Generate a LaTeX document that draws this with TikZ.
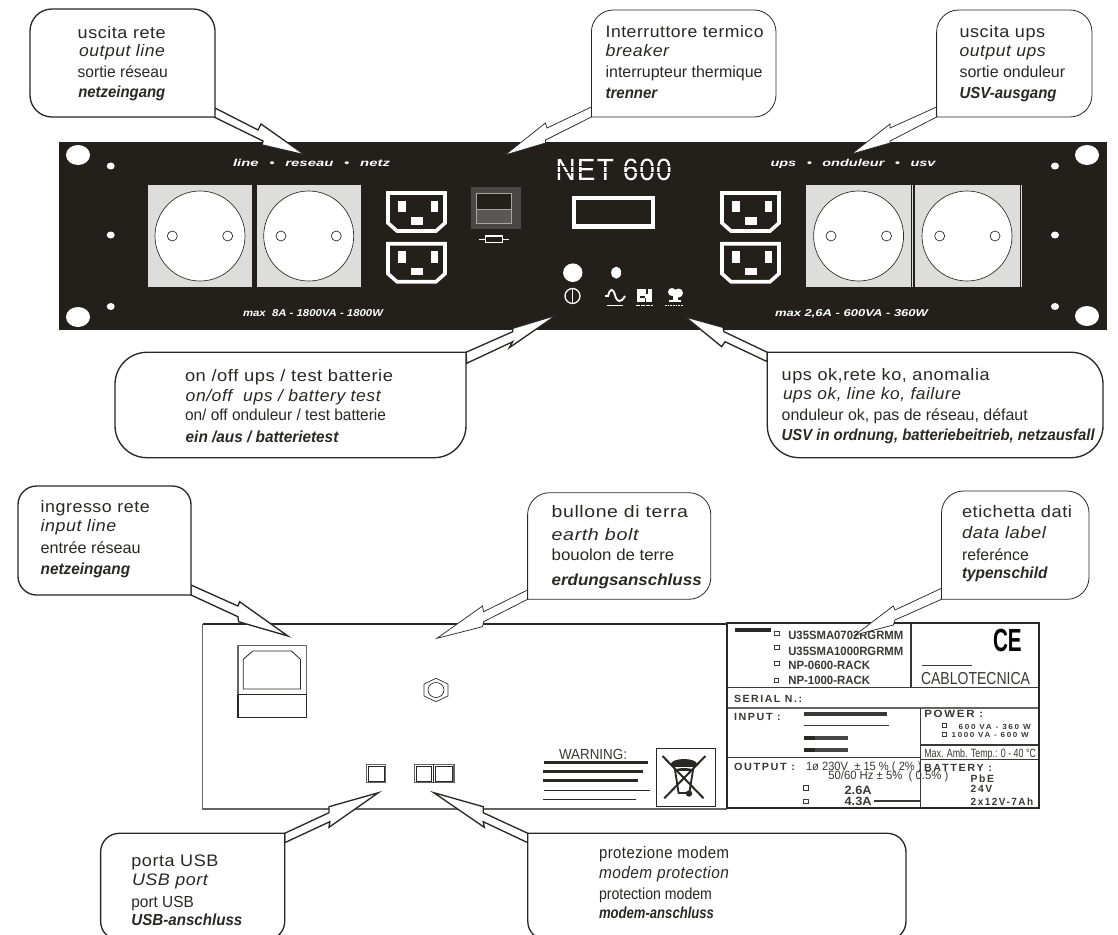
\documentclass[tikz,border=0pt]{standalone}
\usepackage{fontspec}
\usepackage{graphicx}
\setmainfont{Liberation Sans}
\newlength\pxu
\setlength\pxu{0.75pt}
\definecolor{panel}{HTML}{231F1B}
\definecolor{ink}{HTML}{2A2826}
\definecolor{sock}{HTML}{DDDEDC}
\definecolor{labink}{HTML}{3A3836}
\definecolor{rim}{HTML}{666462}
\newcommand{\lsp}[1]{\addfontfeature{LetterSpace=#1}}
% name, x, baseline y, width in px, style, text
\newcommand{\tl}[6]{\node[tx,#5] (#1) at (#2,#3) {\resizebox{#4\pxu}{\height}{#6}};}
% IEC connector at x,y offset
\newcommand{\iec}[2]{%
 \begin{scope}[shift={(#1,#2)}]
  \draw[white,line width=2.7pt,line join=miter] (388,193) -- (445,193) -- (445,223) -- (436,231) -- (397,231) -- (388,223) -- cycle;
  \fill[white] (397.7,200.7) rectangle (406,212.3);
  \fill[white] (431,200.7) rectangle (438.3,212.3);
  \fill[white] (410.7,217.3) rectangle (422.7,224.7);
 \end{scope}}
\tikzset{
 tx/.style={anchor=base west,inner sep=0pt,outer sep=0pt,text=ink},
 la/.style={font=\fontsize{12.5}{14}\selectfont\lsp{3}},
 lb/.style={font=\fontsize{12.5}{14}\selectfont\itshape\lsp{3}},
 lc/.style={font=\fontsize{12}{14}\selectfont},
 ld/.style={font=\fontsize{12}{14}\selectfont\bfseries\itshape},
 wt/.style={text=white,font=\fontsize{7.5}{9}\selectfont\bfseries\itshape},
 lbig/.style={text=labink,font=\fontsize{9}{11}\selectfont\bfseries},
 lsec/.style={text=labink,font=\fontsize{7.8}{9}\selectfont\bfseries\lsp{15}},
 lsm/.style={text=labink,font=\fontsize{5.5}{7}\selectfont\bfseries\lsp{20}},
 lreg/.style={text=labink,font=\fontsize{9}{11}\selectfont},
 cbthick/.style={draw=ink,fill=white,line width=1pt,line cap=round,line join=round},
 cbthin/.style={draw=ink,fill=white,line width=.6pt,line cap=round,line join=round},
 ahthick/.style={draw=ink,fill=white,line width=1pt,line join=miter,miter limit=12},
 ahthin/.style={draw=ink,fill=white,line width=.55pt,line join=miter,miter limit=12},
 chk/.style={draw=labink,line width=.3pt,fill=white},
 barh/.style={line width=2.6pt,draw=labink},
 barl/.style={line width=1.1pt,draw=labink},
 sep/.style={draw=labink,line width=.8pt},
}
\begin{document}
\begin{tikzpicture}[x=0.75pt,y=-0.75pt]
\useasboundingbox (0,0) rectangle (1118,935);
\clip (0,0) rectangle (1118,935);
\fill[white] (0,0) rectangle (1118,935);

% ---------- front panel ----------
\fill[panel] (58.5,142) rectangle (1107,330);
\foreach \x/\y in {78/155,78/317,1087/155,1087/316}{\fill[white] (\x,\y) ellipse [x radius=12,y radius=10];}
\foreach \x/\y in {110.7/166,110.7/235,110.7/306.5,1055/166,1055/235,1055/306.5}{\fill[white] (\x,\y) ellipse [x radius=4,y radius=3.5];}
% sockets
\fill[sock] (147.7,185.3) rectangle (252,286.7);
\fill[sock] (256.7,185.3) rectangle (361,286.7);
\fill[sock] (806,185.3) rectangle (910.7,286.7);
\fill[sock] (915,185.3) rectangle (1020,286.7);
\draw[sock,line width=.6pt] (912.5,185.3) -- (912.5,286.7) (1021.5,185.3) -- (1021.5,286.7);
\foreach \c/\a/\b in {200/172.3/227.7,308.7/281/336.3,858.6/831/886.5,967/939.7/995}{
 \draw[fill=white,draw=ink,line width=.5pt] (\c,236) circle [radius=45];
 \draw[fill=white,draw=ink,line width=.5pt] (\a,236) circle [radius=5];
 \draw[fill=white,draw=ink,line width=.5pt] (\b,236) circle [radius=5];
}
% IEC connectors
\iec{0}{0}\iec{0}{50.7}\iec{334}{0}\iec{334}{50.7}
% breaker
\fill[panel!82!white] (471,186.7) rectangle (520.7,229.3);
\fill[panel] (476.7,193.3) rectangle (511,209.3);
\fill[panel!75!white] (476.7,209.3) rectangle (511,223.3);
\draw[panel!40!white,line width=.5pt] (476.7,193.3) rectangle (511,223.3);
\draw[panel!40!white,line width=.5pt] (476.7,209.3) -- (511,209.3);
\draw[white,line width=.7pt] (479.3,239) -- (509,239);
\draw[white,fill=panel,line width=1pt] (485.7,236) rectangle (502.7,242.3);
% display
\draw[white,line width=3.3pt] (574,198) rectangle (652.7,226.3);
% controls
\fill[white] (572.8,272.7) ellipse [x radius=9.7,y radius=9.3];
\fill[white] (616.2,272.7) ellipse [x radius=5,y radius=6];
\draw[white,line width=1pt] (572.5,296) circle [radius=7.5];
\draw[white,line width=1pt] (572.5,288.5) -- (572.5,303.5);
\draw[white,line width=1.4pt] (605,296) -- (608,296) .. controls (610,288) and (613,288) .. (615,295) .. controls (617,303) and (621,303) .. (625,296);
\draw[white,line width=.9pt] (606.7,305.7) -- (623.3,305.7);
\fill[white] (637.3,289) rectangle (651.7,301.7);
\fill[panel] (639.5,295.5) rectangle (645,297.5);
\fill[panel] (645.5,289) rectangle (647.5,294);
\fill[panel] (644.5,298) rectangle (646,301.7);
\draw[white,line width=.8pt,dash pattern=on 3pt off .8pt] (636,305.7) -- (653,305.7);
\fill[white] (672,292) circle [radius=4];
\fill[white] (678.5,293) circle [radius=4.5];
\fill[white] (673,294) rectangle (677.5,301.7);
\fill[white] (669,300) rectangle (681,301.7);
\draw[white,line width=.8pt,dash pattern=on 1.2pt off .8pt] (665,305.7) -- (683,305.7);
% panel text
\tl{tline}{233}{166}{157}{wt}{line~~\,•~~\,reseau~~\,•~~\,netz}
\tl{tups}{770.5}{166}{165}{wt}{ups~~\,•~~\,onduleur~~\,•~~\,usv}
\tl{tmaxl}{243}{316.5}{140}{wt}{max~ 8A - 1800VA - 1800W}
\tl{tmaxr}{775}{316.5}{153}{wt}{max 2,6A - 600VA - 360W}
\tl{tnet}{555.7}{180}{116}{text=white,font=\fontsize{23}{25}\selectfont\lsp{4}}{NET 600}
\draw[panel,line width=.7pt] (553,166.5) -- (674,166.5);
\draw[panel,line width=.7pt] (553,172) -- (674,172);

% ---------- rear panel ----------
\draw[rim,line width=.8pt] (727,809) -- (202.7,809) -- (202.7,624);
\draw[ink,line width=.9pt] (202.7,624) -- (727,624);
% inlet
\draw[rim,line width=1pt] (306.4,694.3) -- (306.4,645.7) -- (237.9,645.7) -- (237.9,694.3);
\draw[ink,line width=.9pt] (237.9,694.3) rectangle (306.4,717.7);
\draw[ink,line width=.6pt] (243.2,659.3) -- (252.9,651) -- (291.4,651) -- (300.4,659.3) -- (300.4,689) -- (243.2,689) -- cycle;
% earth bolt
\draw[ink,line width=.5pt] (436,678.3) -- (448,684) -- (448,696) -- (436,701.7) -- (424,696) -- (424,684) -- cycle;
\draw[ink,line width=.5pt] (436,690) ellipse [x radius=8,y radius=7.5];
% usb + modem ports
\draw[rim,line width=1.1pt] (366.4,764.3) rectangle (385.7,782.7);
\draw[rim,line width=1.1pt] (414.6,764.3) rectangle (453.9,782.7);
\draw[ink,line width=.7pt] (433.2,764.3) -- (433.2,782.7);
\draw[ink,line width=.3pt] (368,766) rectangle (384,781) (416.3,766) rectangle (431.5,781) (435,766) rectangle (452,781);
% warning
\tl{twarn}{559}{759.3}{68}{text=labink,font=\fontsize{11}{13}\selectfont}{WARNING:}
\draw[barh,ink] (544,762.7) -- (647.5,762.7);
\draw[barh,ink] (543,771.7) -- (643,771.7);
\draw[barh,ink] (543,780.7) -- (638,780.7);
\draw[barl,ink] (544,790.7) -- (650,790.7);
\draw[barl,ink] (543,799.7) -- (636,799.7);
% recycling bin
\draw[ink,line width=.6pt] (656.4,748.3) rectangle (715.7,806.3);
\draw[ink,line width=1.4pt] (675,770) -- (693,770) -- (689.3,793) -- (678.6,793) -- cycle;
\fill[ink] (684,764) ellipse [x radius=13,y radius=5];
\draw[white,line width=.4pt] (674,767) -- (694,767);
\draw[ink,line width=1.5pt] (662.5,756) -- (703.6,798.3);
\draw[ink,line width=1.5pt] (705.4,756) -- (664.3,798.3);
\fill[ink] (689,793.5) circle [radius=3.2];

% ---------- data label ----------
\fill[white] (727.3,623.3) rectangle (1039.3,808.3);
\draw[sep] (911,623.3) -- (911,687);
\draw[sep] (727.3,687.3) -- (1039.3,687.3);
\draw[rim,line width=1.5pt] (727.3,708.3) -- (1039.3,708.3);
\draw[sep] (920.5,708.3) -- (920.5,808.3);
\draw[sep] (920.5,745) -- (1039.3,745);
\draw[sep] (920.5,759.3) -- (1039.3,759.3);
\draw[sep] (727.3,757.3) -- (920.5,757.3);
\draw[ink,line width=1.6pt] (727.3,808.3) -- (727.3,623.3) -- (1039.3,623.3) -- (1039.3,808.3) -- cycle;
\draw[ink,line width=2.6pt] (735,630) -- (771,630);
\foreach \x/\y in {776.7/633.3,776.7/647.3,776.7/663.3,776/680,944.3/725,944.3/734,805.4/787.7,805.4/801}{
 \draw[chk] (\x-2.3,\y-2.3) rectangle (\x+2.3,\y+2.3);}
\tl{tua}{788.3}{639}{115}{lbig}{U35SMA0702RGRMM}
\tl{tub}{788.3}{655.7}{115}{lbig}{U35SMA1000RGRMM}
\tl{tnpa}{788.3}{669}{81.7}{lbig}{NP-0600-RACK}
\tl{tnpb}{788.3}{684.3}{81.7}{lbig}{NP-1000-RACK}
\tl{tcab}{921}{684.3}{109}{text=labink,font=\fontsize{13}{15}\selectfont}{CABLOTECNICA}
\draw[labink,line width=.7pt] (921.7,665) -- (971.7,665);
\tl{tce}{993}{651.7}{28.7}{text=black,font=\fontsize{24}{26}\selectfont\bfseries}{CE}
\tl{tser}{734}{702.3}{68}{lsec}{SERIAL N.:}
\tl{tinp}{734}{720}{46.7}{lsec}{INPUT :}
\draw[barh] (804,714) -- (887,714);
\draw[barl] (804,725.7) -- (889,725.7);
\draw[barh,rim!70!black] (804,738) -- (848,738);
\draw[barh,ink] (804,738) -- (815,738);
\draw[barh,rim!70!black] (804,750) -- (848,750);
\draw[barh,ink] (804,750) -- (815,750);
\tl{tpow}{924.3}{717.7}{59}{lsec}{POWER :}
\tl{tpa}{958.7}{729}{72}{lsm}{600 VA - 360 W}
\tl{tpb}{951.7}{737.7}{77}{lsm}{1000 VA - 600 W}
\tl{tamb}{924.3}{757.7}{111.7}{lreg}{Max. Amb. Temp.: 0 - 40 °C}
\tl{tout}{734}{770.7}{61}{lsec}{OUTPUT :}
\tl{tva}{806}{770.7}{115.7}{lreg}{1ø 230V~ ± 15 \% ( 2\% )}
\tl{thz}{828.3}{779.3}{120}{lreg}{50/60 Hz ± 5\%~ ( 0.5\% )}
\tl{tbat}{924}{771.7}{68}{lsec}{BATTERY :}
\tl{tpbe}{970.7}{782.7}{23.3}{lsec}{PbE}
\tl{tv}{970.7}{792.3}{21.5}{lsec}{24V}
\tl{tah}{970.7}{805}{62.5}{lsec}{2x12V-7Ah}
\tl{tia}{844.6}{794}{27}{lbig}{2.6A}
\tl{tib}{844.6}{805}{27}{lbig}{4.3A}
\draw[labink,line width=1pt] (874,801) -- (920.5,801);

% ---------- hollow arrows ----------
\coordinate (tip1) at (305,155);
\coordinate (tip2) at (505,155);
\coordinate (tip3) at (851.6,154);
\coordinate (tip4) at (556.7,315);
\coordinate (tip5) at (685,316.7);
\coordinate (tip6) at (287.9,636);
\coordinate (tip7) at (437,638.3);
\coordinate (tip8) at (855,635);
\coordinate (tip9) at (378.4,792.7);
\coordinate (tip10) at (433.8,792.7);
\draw[ahthick] (215,108) -- (258,130) -- (261,124) -- (tip1) -- (262,145) -- (263,141) -- (214,117) -- cycle;
\draw[ahthin] (591.4,107) -- (547,128) -- (545.5,123) -- (tip2) -- (545.5,143) -- (545.5,140) -- (591.4,117) -- cycle;
\draw[ahthin] (936.6,107) -- (890,128) -- (890,124) -- (tip3) -- (890,143) -- (890,141) -- (936.6,117) -- cycle;
\draw[ahthick] (466,352.3) -- (512.7,331.7) -- (512.7,328.3) -- (tip4) -- (509.3,347.7) -- (512.7,341.7) -- (466.7,363.3) -- cycle;
\draw[ahthick] (767.3,352.3) -- (724,331.7) -- (723,327.3) -- (tip5) -- (721.7,346.7) -- (725,341.7) -- (767.3,361.7) -- cycle;
\draw[ahthick] (191,585) -- (237.9,606) -- (239.6,601.7) -- (tip6) -- (238.6,621.7) -- (237.9,616.7) -- (191,595) -- cycle;
\draw[ahthin] (527.6,590) -- (483.6,611.7) -- (482.5,606) -- (tip7) -- (482.5,626.7) -- (483.6,621.7) -- (527.6,599.3) -- cycle;
\draw[ahthin] (941.5,588.3) -- (895,610) -- (893.3,606) -- (tip8) -- (893.3,625) -- (895,620) -- (941.5,599.3) -- cycle;
\draw[ahthick] (284.7,833.3) -- (329,812.7) -- (329,806.7) -- (tip9) -- (329,827.3) -- (329.8,821.7) -- (284.7,842.7) -- cycle;
\draw[ahthick] (527.8,833.3) -- (483.2,812.7) -- (483.2,806.7) -- (tip10) -- (484.3,827.3) -- (483.2,821.7) -- (527.8,842.7) -- cycle;

% ---------- callouts ----------
\draw[cbthick,rounded corners=16.5pt] (215,117) -- (215,9) -- (30,9) -- (30,117) -- (215,117);
\draw[cbthin,rounded corners=16.5pt] (591.4,117) -- (591.4,10) -- (776,10) -- (776,117) -- (591.4,117);
\draw[cbthin,rounded corners=16.5pt] (936.6,117) -- (936.6,10) -- (1092,10) -- (1092,117) -- (936.6,117);
\draw[cbthick,rounded corners=24pt] (466,352.3) -- (115,352.3) -- (115,457.7) -- (466,457.7) -- (466,352.3);
\draw[cbthick,rounded corners=24pt] (767.3,352.3) -- (1103,352.3) -- (1103,457.7) -- (767.3,457.7) -- (767.3,352.3);
\draw[cbthick,rounded corners=14pt] (191,595) -- (191,486) -- (18,486) -- (18,595) -- (191,595);
\draw[cbthin,rounded corners=16.5pt] (527.6,599.3) -- (527.6,492.7) -- (710.8,492.7) -- (710.8,599.3) -- (527.6,599.3);
\draw[cbthin,rounded corners=16.5pt] (941.5,599.3) -- (941.5,491) -- (1089,491) -- (1089,599.3) -- (941.5,599.3);
\draw[cbthick,rounded corners=14pt] (284.7,833.3) -- (100.6,833.3) -- (100.6,940) -- (284.7,940) -- (284.7,833.3);
\draw[cbthick,rounded corners=14pt] (527.8,833.3) -- (906,833.3) -- (906,940) -- (527.8,940) -- (527.8,833.3);

\tl{aa}{77.7}{38.3}{88}{la}{uscita rete}
\tl{ab}{79}{56}{86}{lb}{output line}
\tl{ac}{77.7}{77.3}{90}{lc}{sortie réseau}
\tl{ad}{78.3}{97.7}{87}{ld}{netzeingang}

\tl{ba}{605.6}{37.7}{158}{la}{Interruttore termico}
\tl{bb}{605.6}{56}{63.5}{lb}{breaker}
\tl{bc}{605.6}{77.3}{157}{lc}{interrupteur thermique}
\tl{bd}{605.6}{98}{51.7}{ld}{trenner}

\tl{ca}{959.6}{37.7}{85.5}{la}{uscita ups}
\tl{cb}{959.6}{56}{86}{lb}{output ups}
\tl{cc}{959.6}{77.3}{105.6}{lc}{sortie onduleur}
\tl{cd}{959.6}{98}{97}{ld}{USV-ausgang}

\tl{da}{185}{381.7}{208}{la}{on /off ups / test batterie}
\tl{db}{185.7}{401.7}{195}{lb}{on/off~ ups / battery test}
\tl{dc}{185}{420.7}{201}{lc}{on/ off onduleur / test batterie}
\tl{dd}{185.7}{442.7}{152.7}{ld}{ein /aus / batterietest}

\tl{ea}{781.7}{380}{208}{la}{ups ok,rete ko, anomalia}
\tl{eb}{783}{399}{178}{lb}{ups ok, line ko, failure}
\tl{ec}{781.7}{420.7}{246}{lc}{onduleur ok, pas de réseau, défaut}
\tl{ed}{781.7}{440}{313}{ld}{USV in ordnung, batteriebeitrieb, netzausfall}

\tl{fa}{40.7}{512.3}{109}{la}{ingresso rete}
\tl{fb}{40.7}{531.7}{75.7}{lb}{input line}
\tl{fc}{40.7}{553.3}{100}{lc}{entrée réseau}
\tl{fd}{40.7}{574}{89.5}{ld}{netzeingang}

\tl{ga}{551.7}{517.7}{136.4}{la}{bullone di terra}
\tl{gb}{551.7}{540.7}{86.8}{lb}{earth bolt}
\tl{gc}{551.7}{560.7}{122.6}{lc}{bouolon de terre}
\tl{gd}{551.7}{585}{150}{ld}{erdungsanschluss}

\tl{ha}{962}{517.7}{110}{la}{etichetta dati}
\tl{hb}{962}{538.3}{84}{lb}{data label}
\tl{hc}{962}{560}{66.8}{lc}{referénce}
\tl{hd}{962}{578}{85.4}{ld}{typenschild}

\tl{ia}{131.4}{866}{87}{la}{porta USB}
\tl{ib}{132}{885.7}{76}{lb}{USB port}
\tl{ic}{131.4}{907.3}{62.4}{lc}{port USB}
\tl{id}{131.4}{925.7}{111}{ld}{USB-anschluss}

\tl{ja}{599}{858}{130}{la}{protezione modem}
\tl{jb}{599}{878.3}{130}{lb}{modem protection}
\tl{jc}{599}{899.3}{113}{lc}{protection modem}
\tl{jd}{599}{918.3}{115}{ld}{modem-anschluss}
\end{tikzpicture}
\end{document}
